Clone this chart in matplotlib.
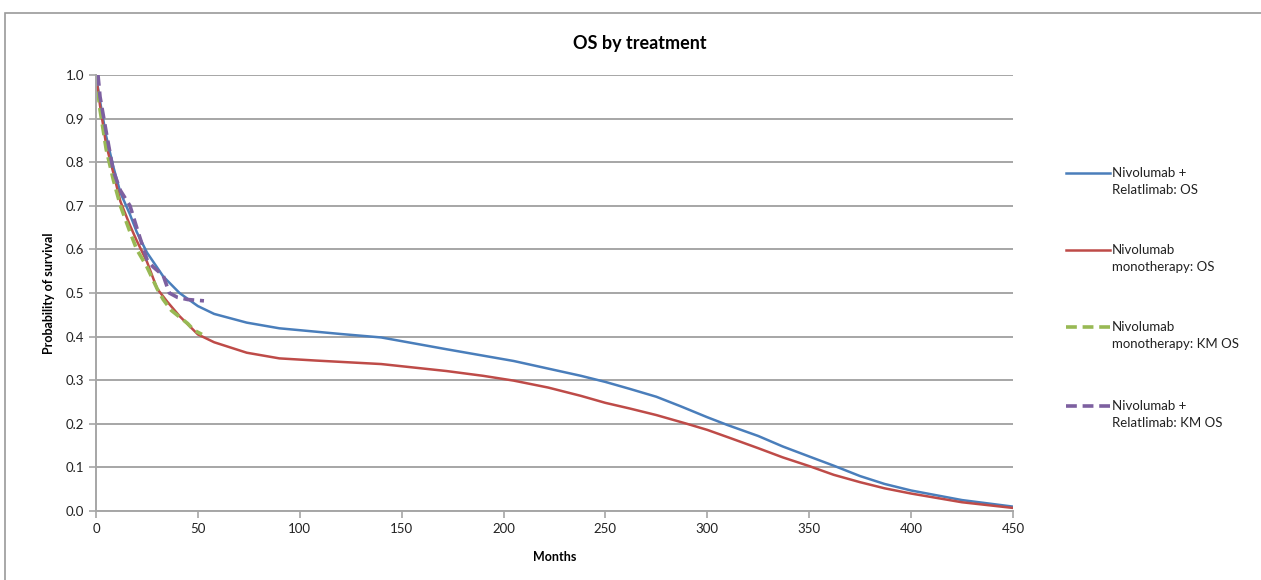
import matplotlib.pyplot as plt
from matplotlib.lines import Line2D
from matplotlib.patches import Rectangle

plt.rcParams['font.family'] = ['Lato', 'DejaVu Sans']

# Nivolumab + Relatlimab: OS (modelled)
nr_months = [0, 2, 5, 8.5, 12, 16.7, 20, 25, 33, 41, 50, 58, 74, 90, 120, 140, 172, 205,
             238, 250, 262, 275, 287, 300, 310, 325, 337, 350, 362, 375, 387, 400, 425, 450]
nr_os = [1.0, 0.94, 0.86, 0.79, 0.73, 0.68, 0.64, 0.593, 0.538, 0.50, 0.47, 0.452, 0.432,
         0.419, 0.406, 0.398, 0.371, 0.344, 0.31, 0.296, 0.28, 0.262, 0.24, 0.215, 0.197,
         0.172, 0.148, 0.125, 0.104, 0.08, 0.062, 0.047, 0.025, 0.01]

# Nivolumab monotherapy: OS (modelled)
nm_months = [0, 2, 5, 8.5, 12, 16.7, 20, 25, 30, 35, 41, 50, 58, 74, 90, 108, 140, 172,
             190, 205, 222, 238, 250, 262, 275, 290, 300, 312, 325, 337, 350, 362, 375,
             387, 400, 425, 450]
nm_os = [1.0, 0.93, 0.84, 0.776, 0.71, 0.655, 0.62, 0.572, 0.51, 0.48, 0.447, 0.405, 0.387,
         0.363, 0.35, 0.345, 0.337, 0.321, 0.31, 0.299, 0.283, 0.264, 0.248, 0.235, 0.22,
         0.20, 0.186, 0.166, 0.144, 0.123, 0.103, 0.083, 0.066, 0.052, 0.04, 0.02, 0.007]

# Kaplan-Meier curves
km_nm_months = [0, 2, 5, 8.5, 12, 16.7, 20, 25, 30, 33, 37, 41, 45, 48, 52]
km_nm_os = [1.0, 0.92, 0.83, 0.76, 0.70, 0.64, 0.60, 0.56, 0.51, 0.485, 0.46, 0.445,
            0.43, 0.415, 0.405]

km_nr_months = [1, 2, 5, 8.5, 12, 16.7, 20, 25, 28, 33, 36, 40, 45, 53]
km_nr_os = [1.0, 0.95, 0.87, 0.78, 0.735, 0.70, 0.65, 0.577, 0.56, 0.54, 0.50, 0.49,
            0.485, 0.482]

labels = ['Nivolumab +\nRelatlimab: OS', 'Nivolumab\nmonotherapy: OS',
          'Nivolumab\nmonotherapy: KM OS', 'Nivolumab +\nRelatlimab: KM OS']
colors = ['#4a7ebb', '#be4b48', '#98b954', '#7d60a0']

W, H = 1261, 580
fig = plt.figure(figsize=(W / 100, H / 100), dpi=100)
ax = fig.add_axes([0.0761, 0.119, 0.7272, 0.7517])

# chart area frame
fig.add_artist(Rectangle((5 / W, -0.1), 1.2, 1.1 - 13 / H, transform=fig.transFigure,
                         fill=False, edgecolor='#9a9a9a', linewidth=1.2))

solid = dict(lw=1.8)
dashed = dict(lw=2.6, dashes=(3, 1.6))
l1, = ax.plot(nr_months, nr_os, color=colors[0], **solid)
l2, = ax.plot(nm_months, nm_os, color=colors[1], **solid)
l3, = ax.plot(km_nm_months, km_nm_os, color=colors[2], **dashed)
l4, = ax.plot(km_nr_months, km_nr_os, color=colors[3], **dashed)

ax.set_xlim(0, 450)
ax.set_ylim(0, 1.0)
ax.set_xticks(range(0, 451, 50))
ax.set_yticks([i / 10 for i in range(11)])
ax.set_yticklabels([f'{i / 10:.1f}' for i in range(11)])
ax.grid(axis='y', color='#a6a6a6', lw=1.4)
ax.set_axisbelow(True)
for s in ['top', 'right']:
    ax.spines[s].set_visible(False)
for s in ['left', 'bottom']:
    ax.spines[s].set_color('#a6a6a6')
    ax.spines[s].set_linewidth(1.4)
ax.tick_params(axis='both', colors='#a6a6a6', labelcolor='#222222', labelsize=9.5,
               length=5, width=1.2)

ax.set_xlabel('Months', fontsize=9, fontweight='bold', labelpad=12)
ax.set_ylabel('Probability of survival', fontsize=9, fontweight='bold', labelpad=8)
fig.text(0.507, 0.925, 'OS by treatment', ha='center', va='center', fontsize=13,
         fontweight='bold')

# legend: handle sits on the first line of each two-line label
legend_y = [173, 250, 327, 406]
styles = [solid, solid, dashed, dashed]
for lab, col, st, y in zip(labels, colors, styles, legend_y):
    yf = 1 - y / H
    fig.add_artist(Line2D([1066 / W, 1110 / W], [yf, yf], color=col, **st))
    fig.text(1112 / W, yf + 6 / H, lab, ha='left', va='top', fontsize=9.5,
             color='#222222', linespacing=1.5)

fig.savefig('out.png', dpi=100)
